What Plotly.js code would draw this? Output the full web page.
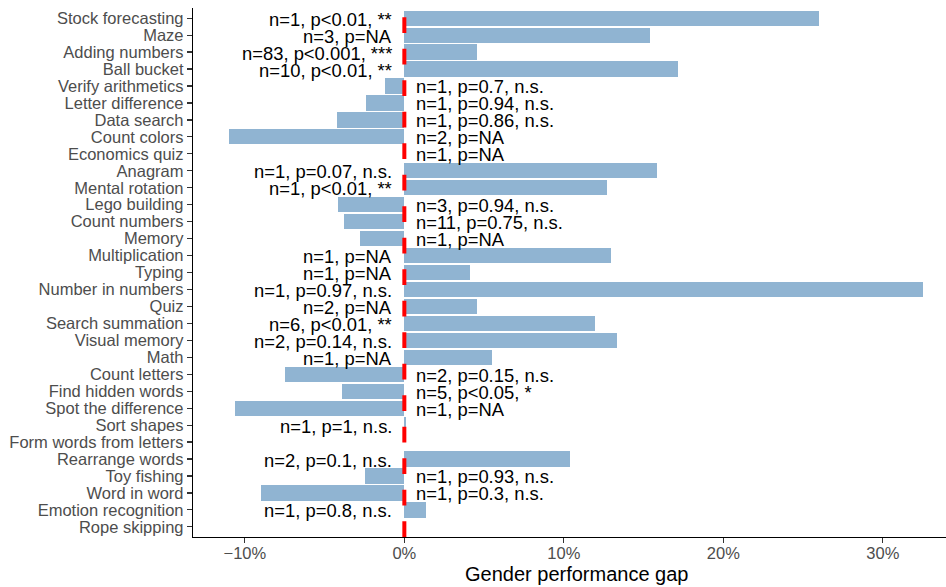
<!DOCTYPE html>
<html>
<head>
<meta charset="utf-8">
<script src="https://cdn.plot.ly/plotly-3.0.1.min.js"></script>
<style>html,body{margin:0;padding:0;background:#fff;}#chart{width:946px;height:587px;}</style>
</head>
<body>
<div id="chart"></div>
<script>
const tasks = ["Stock forecasting","Maze","Adding numbers","Ball bucket","Verify arithmetics","Letter difference","Data search","Count colors","Economics quiz","Anagram","Mental rotation","Lego building","Count numbers","Memory","Multiplication","Typing","Number in numbers","Quiz","Search summation","Visual memory","Math","Count letters","Find hidden words","Spot the difference","Sort shapes","Form words from letters","Rearrange words","Toy fishing","Word in word","Emotion recognition","Rope skipping"];
const gapPct = [26.0,15.4,4.56,17.16,-1.21,-2.4,-4.2,-11.0,-0.05,15.86,12.7,-4.17,-3.79,-2.78,12.96,4.12,32.5,4.56,11.96,13.33,5.5,-7.48,-3.9,-10.6,0.12,0,10.4,-2.47,-8.98,1.36,0];
const labels = ["n=1, p<0.01, **","n=3, p=NA","n=83, p<0.001, ***","n=10, p<0.01, **","n=1, p=0.7, n.s.","n=1, p=0.94, n.s.","n=1, p=0.86, n.s.","n=2, p=NA","n=1, p=NA","n=1, p=0.07, n.s.","n=1, p<0.01, **","n=3, p=0.94, n.s.","n=11, p=0.75, n.s.","n=1, p=NA","n=1, p=NA","n=1, p=NA","n=1, p=0.97, n.s.","n=2, p=NA","n=6, p<0.01, **","n=2, p=0.14, n.s.","n=1, p=NA","n=2, p=0.15, n.s.","n=5, p<0.05, *","n=1, p=NA","n=1, p=1, n.s.","","n=2, p=0.1, n.s.","n=1, p=0.93, n.s.","n=1, p=0.3, n.s.","n=1, p=0.8, n.s.",""];
const xTicks = [-10, 0, 10, 20, 30];
const xTitle = 'Gender performance gap';

const font = "Liberation Sans, Arial, sans-serif";

const trace = {
  type: 'bar',
  orientation: 'h',
  y: tasks,
  x: gapPct,
  width: 0.9,
  marker: {color: '#90b4d2', line: {width: 0}},
  hoverinfo: 'skip'
};

const annotations = [];
tasks.forEach((t, i) => {
  if (!labels[i]) return;
  const pos = gapPct[i] > 0;
  annotations.push({
    x: 0, y: t, xref: 'x', yref: 'y',
    text: labels[i], showarrow: false,
    xanchor: pos ? 'right' : 'left',
    yanchor: 'middle',
    xshift: pos ? -10 : 10,
    yshift: -1,
    font: {family: font, size: 18.4, color: '#000'}
  });
});
annotations.push({
  xref: 'paper', yref: 'paper', x: 0.5093, y: -0.070,
  xanchor: 'center', yanchor: 'middle', showarrow: false,
  text: xTitle, font: {family: font, size: 20, color: '#000'}
});

const layout = {
  width: 946, height: 587,
  margin: {l: 193, r: 0, t: 8, b: 50},
  paper_bgcolor: '#fff', plot_bgcolor: '#fff',
  showlegend: false,
  bargap: 0,
  xaxis: {
    range: [-13.25, 33.96],
    tickmode: 'array',
    tickvals: xTicks,
    ticktext: xTicks.map(v => (v < 0 ? '\u2212' + Math.abs(v) : v) + '%'),
    showgrid: false, zeroline: false,
    showline: true, linecolor: '#000', linewidth: 1.2,
    ticks: 'outside', ticklen: 5, tickcolor: '#333', tickwidth: 1.2,
    ticklabelstandoff: -4,
    tickfont: {family: font, size: 16.5, color: '#4d4d4d'}
  },
  yaxis: {
    type: 'category',
    categoryorder: 'array', categoryarray: tasks,
    tickmode: 'array', tickvals: tasks, ticktext: tasks,
    range: [30.6, -0.6],
    showgrid: false, zeroline: false,
    showline: true, linecolor: '#000', linewidth: 1.2,
    ticks: 'outside', ticklen: 5, tickcolor: '#333', tickwidth: 1.2,
    tickfont: {family: font, size: 16.5, color: '#4d4d4d'}
  },
  shapes: [{
    type: 'line', xref: 'x', yref: 'paper',
    x0: 0, x1: 0, y0: 0, y1: 1,
    line: {color: '#ff0000', width: 4, dash: '15.7px,15.8px'},
    layer: 'above'
  }],
  annotations: annotations
};

Plotly.newPlot('chart', [trace], layout, {displayModeBar: false, staticPlot: true});
</script>
</body>
</html>
